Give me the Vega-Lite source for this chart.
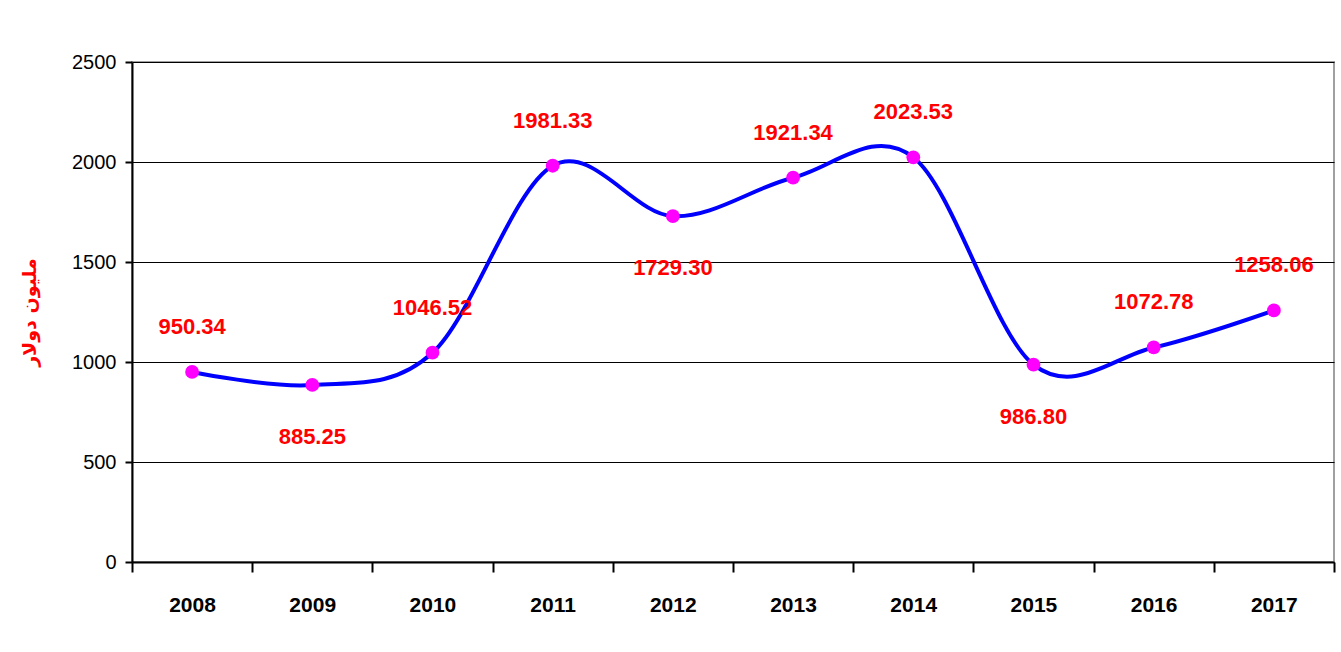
{
  "$schema": "https://vega.github.io/schema/vega-lite/v6.json",
  "autosize": "none",
  "width": 1202,
  "height": 500,
  "padding": {"left": 132, "top": 62, "right": 7, "bottom": 90},
  "background": "white",
  "config": {
    "view": {"stroke": "#a0a0a0", "strokeWidth": 2},
    "font": "Liberation Sans, Arial"
  },
  "data": {
    "values": [
      {"year": 2008, "value": 950.34},
      {"year": 2009, "value": 885.25},
      {"year": 2010, "value": 1046.52},
      {"year": 2011, "value": 1981.33},
      {"year": 2012, "value": 1729.30},
      {"year": 2013, "value": 1921.34},
      {"year": 2014, "value": 2023.53},
      {"year": 2015, "value": 986.80},
      {"year": 2016, "value": 1072.78},
      {"year": 2017, "value": 1258.06}
    ]
  },
  "encoding": {
    "x": {
      "field": "year", "type": "quantitative",
      "scale": {"domain": [2007.5, 2017.5], "nice": false, "zero": false},
      "axis": {
        "title": null,
        "values": [2007.5, 2008.5, 2009.5, 2010.5, 2011.5, 2012.5, 2013.5, 2014.5, 2015.5, 2016.5, 2017.5],
        "labelExpr": "datum.value < 2017 ? format(datum.value + 0.5, 'd') : ''",
        "labelOffset": 60,
        "labelFlush": false,
        "labelBound": false,
        "labelOverlap": false,
        "grid": false,
        "domainColor": "black", "domainWidth": 2,
        "tickColor": "black", "tickWidth": 2, "tickSize": 10,
        "labelPadding": 22,
        "labelFont": "Liberation Sans, Arial",
        "labelFontWeight": "bold", "labelFontSize": 21, "labelColor": "black"
      }
    },
    "y": {
      "field": "value", "type": "quantitative",
      "scale": {"domain": [0, 2500], "nice": false},
      "axis": {
        "title": "مليون دولار",
        "titleColor": "#ff0000", "titleFontSize": 19, "titleFontWeight": "bold",
        "titleFont": "DejaVu Sans",
        "titlePadding": 32,
        "format": "d",
        "values": [0, 500, 1000, 1500, 2000, 2500],
        "gridColor": "black", "gridWidth": 1, "gridOpacity": 1,
        "domainColor": "black", "domainWidth": 2,
        "tickColor": "black", "tickWidth": 2, "tickSize": 7,
        "labelPadding": 9,
        "labelFont": "Liberation Sans, Arial",
        "labelFontSize": 20, "labelColor": "black"
      }
    }
  },
  "layer": [
    {
      "mark": {"type": "line", "interpolate": "cardinal", "color": "#0000ff", "strokeWidth": 4}
    },
    {
      "mark": {"type": "point", "shape": "circle", "filled": true, "color": "#ff00ff", "size": 190, "opacity": 1}
    },
    {
      "transform": [{"filter": "indexof([2009, 2012, 2015], datum.year) < 0"}],
      "mark": {"type": "text", "color": "#ff0000", "fontWeight": "bold", "fontSize": 22, "dy": -45, "font": "Liberation Sans, Arial"},
      "encoding": {"text": {"field": "value", "type": "quantitative", "format": ".2f"}}
    },
    {
      "transform": [{"filter": "indexof([2009, 2012, 2015], datum.year) >= 0"}],
      "mark": {"type": "text", "color": "#ff0000", "fontWeight": "bold", "fontSize": 22, "dy": 52, "font": "Liberation Sans, Arial"},
      "encoding": {"text": {"field": "value", "type": "quantitative", "format": ".2f"}}
    }
  ]
}
